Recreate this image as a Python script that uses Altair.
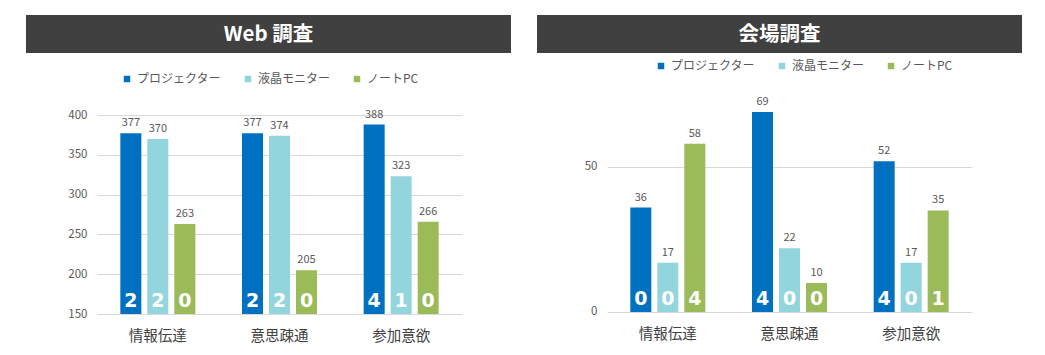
import altair as alt
import pandas as pd

categories = ["情報伝達", "意思疎通", "参加意欲"]
series = ["プロジェクター", "液晶モニター", "ノートPC"]
colors = ["#0070C0", "#92D5DC", "#9BBB59"]

web_values = [377, 370, 263, 377, 374, 205, 388, 323, 266]
web_inner = [2, 2, 0, 2, 2, 0, 4, 1, 0]
venue_values = [36, 17, 58, 69, 22, 10, 52, 17, 35]
venue_inner = [0, 0, 4, 4, 0, 0, 4, 0, 1]

web_ticks = [150, 200, 250, 300, 350, 400]
venue_ticks = [0, 50]

FONT = "Noto Sans CJK JP"
W, H = 365, 234


def make_df(vals, inner):
    rows = []
    i = 0
    for c in categories:
        for s in series:
            rows.append({"category": c, "series": s, "value": vals[i], "inner": inner[i]})
            i += 1
    return pd.DataFrame(rows)


def panel(title, vals, inner, ydomain, yticks, base, leg_x, leg_y, rect_x, rect_x2, xlab_pad):
    df = make_df(vals, inner)
    x = alt.X("category:N", sort=categories, title=None,
              scale=alt.Scale(paddingInner=0, paddingOuter=0),
              axis=alt.Axis(labelAngle=0, domain=False, ticks=False, grid=False,
                            labelFontSize=14.5, labelColor="#404040", labelPadding=xlab_pad,
                            labelFont=FONT))
    xo = alt.XOffset("series:N", sort=series,
                     scale=alt.Scale(paddingInner=0.222, paddingOuter=0.864))
    y = alt.Y("value:Q", title=None,
              scale=alt.Scale(domain=ydomain, zero=False, nice=False),
              axis=alt.Axis(values=yticks, domain=False, ticks=False, grid=True,
                            gridColor="#D9D9D9", gridWidth=1, labelColor="#595959",
                            labelFontSize=11.5, labelPadding=10, labelFont=FONT))
    color = alt.Color("series:N", sort=series,
                      scale=alt.Scale(domain=series, range=colors),
                      legend=alt.Legend(title=None, orient="none", direction="horizontal",
                                        legendX=leg_x, legendY=leg_y, symbolType="square",
                                        symbolSize=42, symbolStrokeWidth=0,
                                        labelFontSize=12, labelColor="#595959",
                                        labelFont=FONT, columnPadding=20, labelOffset=4,
                                        padding=0))
    base_chart = alt.Chart(df)
    bars = base_chart.mark_bar().encode(x=x, xOffset=xo, y=y, y2=alt.datum(base), color=color)
    labels = base_chart.mark_text(baseline="bottom", dy=-5, fontSize=11, color="#595959",
                                  font=FONT).encode(
        x=x, xOffset=xo, y=y, text="value:Q")
    inner_t = base_chart.mark_text(baseline="alphabetic", dy=-7, fontSize=19, fontWeight="bold",
                                   color="white", font="DejaVu Sans").encode(
        x=x, xOffset=xo, y=alt.datum(base), text="inner:Q")
    deco = alt.Chart(pd.DataFrame({"t": [title]}))
    bar_bg = deco.mark_rect(color="#404040").encode(
        x=alt.value(rect_x), x2=alt.value(rect_x2), y=alt.value(-65), y2=alt.value(-27))
    title_t = deco.mark_text(fontSize=20.5, fontWeight="bold", color="white", font=FONT,
                             baseline="middle", align="center").encode(
        x=alt.value((rect_x + rect_x2) / 2), y=alt.value(-45), text="t:N")
    return alt.layer(bar_bg, title_t, bars, labels, inner_t).properties(width=W, height=H)


left = panel("Web 調査", web_values, web_inner, [150, 444], web_ticks, 150,
             24, -7, -71, 414, 15)
right = panel("会場調査", venue_values, venue_inner, [-0.7, 80], venue_ticks, 0,
              48, -20, -70, 415, 13)

chart = alt.hconcat(left, right, spacing=145, bounds="flush").resolve_scale(
    color="independent").resolve_legend(color="independent").properties(
    padding={"left": 18, "top": 7, "right": 5, "bottom": 5},
    background="white",
).configure(font=FONT).configure_view(stroke=None)

chart.save("out.html", embed_options={"renderer": "svg", "actions": False})
